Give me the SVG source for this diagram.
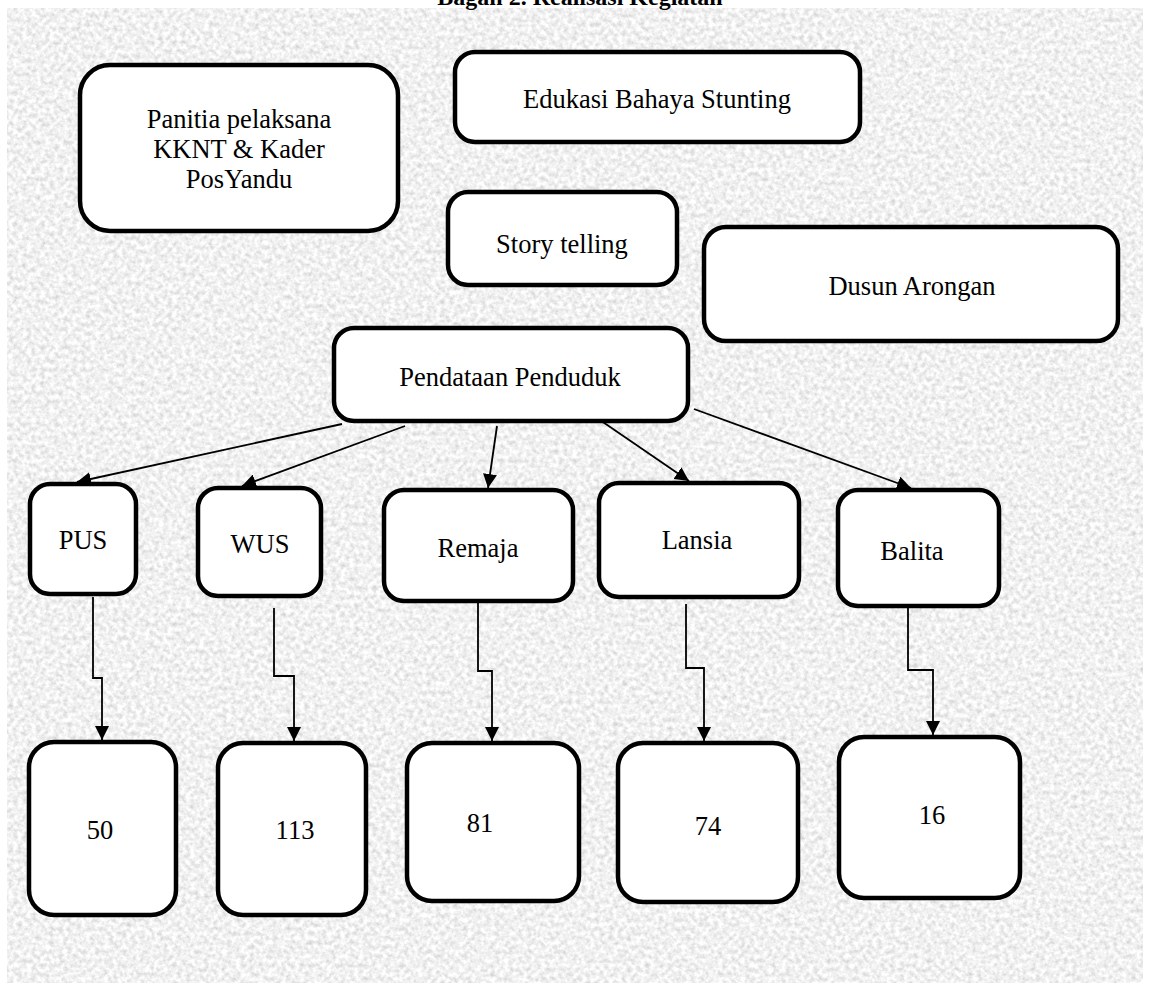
<svg xmlns="http://www.w3.org/2000/svg" width="1150" height="983" viewBox="0 0 1150 983">
<style>
.node rect{fill:#fff;stroke:#000;stroke-width:4.5}
.node text{font-family:"Liberation Serif","Times New Roman",serif;font-size:26.5px;fill:#000;text-anchor:middle}
.title{font-family:"Liberation Serif","Times New Roman",serif;font-size:24px;font-weight:bold;fill:#000;text-anchor:middle}
.conn path,.conn line{fill:none;stroke:#000;stroke-width:1.8}
</style>
<defs>
<filter id="paper" x="0" y="0" width="100%" height="100%" filterUnits="objectBoundingBox">
<feTurbulence type="fractalNoise" baseFrequency="0.22" numOctaves="3" seed="7"/>
<feColorMatrix type="matrix" values="0.6 0 0 0 0.58  0.6 0 0 0 0.58  0.6 0 0 0 0.58  0 0 0 0 1"/>
</filter>
<marker id="arr" markerWidth="14" markerHeight="14" refX="14" refY="7" orient="auto" markerUnits="userSpaceOnUse">
<path d="M0,0 L14,7 L0,14 Z" fill="#000"/>
</marker>
</defs>
<rect x="0" y="0" width="1150" height="983" fill="#fff"/>
<rect x="7" y="8" width="1136" height="975" filter="url(#paper)"/>
<text class="title" x="580" y="5">Bagan 2. Realisasi Kegiatan</text>

<g class="conn">
<line x1="342" y1="424" x2="77" y2="482" marker-end="url(#arr)"/>
<line x1="405" y1="426" x2="242" y2="486" marker-end="url(#arr)"/>
<line x1="497" y1="426" x2="488" y2="488" marker-end="url(#arr)"/>
<line x1="597" y1="418" x2="689" y2="481" marker-end="url(#arr)"/>
<line x1="694" y1="409" x2="911" y2="488" marker-end="url(#arr)"/>
<path d="M93,597 V678 H102 V740" marker-end="url(#arr)"/>
<path d="M274,608 V676 H294 V741" marker-end="url(#arr)"/>
<path d="M478,603 V671 H492 V741" marker-end="url(#arr)"/>
<path d="M686,604 V668 H704 V741" marker-end="url(#arr)"/>
<path d="M908,608 V670 H933 V735" marker-end="url(#arr)"/>
</g>

<g id="panitia" class="node"><rect x="80" y="65" width="318" height="166" rx="30"/>
<text x="239" y="128">Panitia pelaksana</text><text x="239" y="158">KKNT &amp; Kader</text><text x="239" y="188">PosYandu</text></g>
<g id="edukasi" class="node"><rect x="455" y="52" width="405" height="90" rx="20"/><text x="657" y="108">Edukasi Bahaya Stunting</text></g>
<g id="story" class="node"><rect x="448" y="192" width="229" height="93" rx="20"/><text x="562" y="253">Story telling</text></g>
<g id="dusun" class="node"><rect x="704" y="227" width="414" height="114" rx="22"/><text x="912" y="295">Dusun Arongan</text></g>
<g id="pendataan" class="node"><rect x="334" y="328" width="354" height="93" rx="20"/><text x="510" y="386">Pendataan Penduduk</text></g>

<g id="pus" class="node"><rect x="30" y="484" width="106" height="110" rx="20"/><text x="83" y="549">PUS</text></g>
<g id="wus" class="node"><rect x="198" y="488" width="123" height="108" rx="20"/><text x="260" y="553">WUS</text></g>
<g id="remaja" class="node"><rect x="384" y="490" width="189" height="111" rx="20"/><text x="478" y="557">Remaja</text></g>
<g id="lansia" class="node"><rect x="599" y="483" width="200" height="114" rx="20"/><text x="697" y="549">Lansia</text></g>
<g id="balita" class="node"><rect x="838" y="490" width="161" height="116" rx="20"/><text x="912" y="560">Balita</text></g>

<g id="n50" class="node"><rect x="29" y="742" width="147" height="173" rx="25"/><text x="100" y="839">50</text></g>
<g id="n113" class="node"><rect x="218" y="743" width="148" height="172" rx="25"/><text x="295" y="839">113</text></g>
<g id="n81" class="node"><rect x="407" y="743" width="172" height="158" rx="25"/><text x="480" y="832">81</text></g>
<g id="n74" class="node"><rect x="618" y="743" width="180" height="159" rx="25"/><text x="708" y="835">74</text></g>
<g id="n16" class="node"><rect x="839" y="737" width="181" height="161" rx="25"/><text x="932" y="824">16</text></g>
</svg>
